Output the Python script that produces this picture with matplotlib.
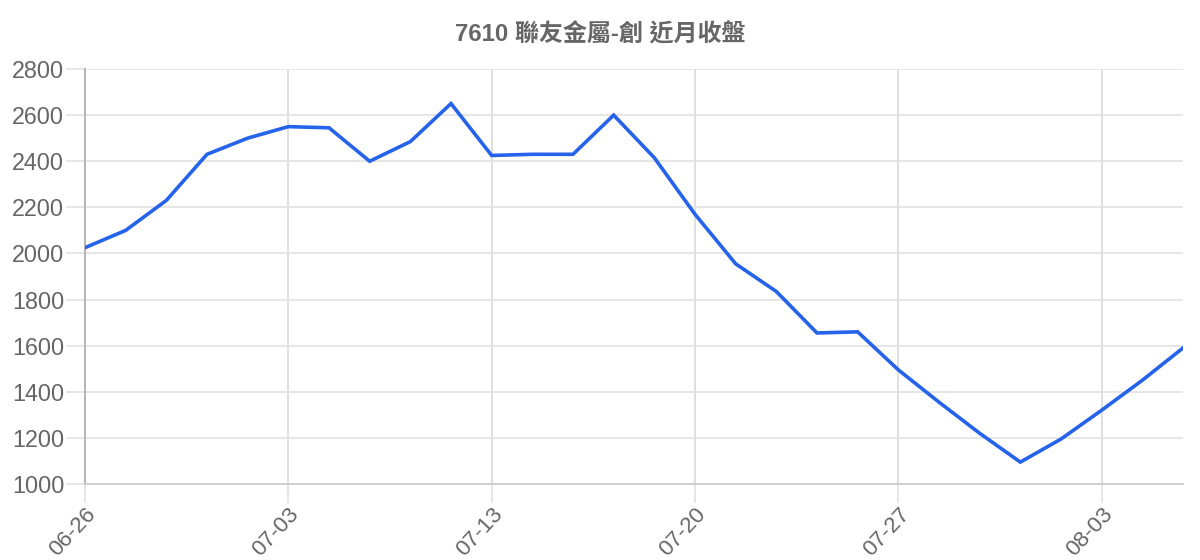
import matplotlib
matplotlib.use("Agg")
from matplotlib import pyplot as plt

# Daily closing prices, 7610 (trading days only)
dates = ['06-26', '06-27', '06-28', '06-29', '06-30',
         '07-03', '07-04', '07-05', '07-06', '07-07',
         '07-13', '07-14', '07-17', '07-18', '07-19',
         '07-20', '07-21', '07-24', '07-25', '07-26',
         '07-27', '07-28', '07-31', '08-01', '08-02',
         '08-03', '08-04', '08-07']
closes = [2025, 2100, 2230, 2430, 2500,
          2550, 2545, 2400, 2485, 2650,
          2425, 2430, 2430, 2600, 2415,
          2170, 1955, 1835, 1655, 1660,
          1495, 1355, 1220, 1095, 1195,
          1320, 1450, 1590]
y_ticks = [1000, 1200, 1400, 1600, 1800, 2000, 2200, 2400, 2600, 2800]
title = '7610 聯友金屬-創 近月收盤'

fonts = ['Liberation Sans', 'Noto Sans CJK TC', 'DejaVu Sans']
plt.rcParams['font.family'] = fonts
text_color = '#666666'

fig = plt.figure(figsize=(12, 5.6), dpi=100)
ax = fig.add_axes([85 / 1200, 76 / 560, 1098 / 1200, 415 / 560])

xs = list(range(len(dates)))
ax.plot(xs, closes, color='#2563eb', linewidth=2.6, solid_joinstyle='miter', zorder=3)

ax.set_xlim(0, len(dates) - 1)
ax.set_ylim(y_ticks[0], y_ticks[-1])
ax.set_yticks(y_ticks)
ax.set_xticks(xs[::5])
ax.set_xticklabels(dates[::5], rotation=47, ha='right', va='top', rotation_mode='anchor')

ax.grid(axis='y', color='#e2e2e2', linewidth=1.2, zorder=0)
ax.grid(axis='x', color='#d9d9d9', linewidth=1.2, zorder=0)

for side in ['top', 'right']:
    ax.spines[side].set_visible(False)
ax.spines['left'].set_color('#b0b0b0')
ax.spines['bottom'].set_color('#cccccc')
ax.spines['left'].set_linewidth(1.3)
ax.spines['bottom'].set_linewidth(1.3)

ax.tick_params(axis='both', length=14, width=1.2, color='#e2e2e2', labelcolor=text_color)
ax.tick_params(axis='y', labelsize=16.8, pad=1)
ax.tick_params(axis='x', labelsize=16.2, pad=0)
for lbl in ax.get_xticklabels():
    lbl.set_x(lbl.get_position()[0])

fig.text(0.5, 1 - 35 / 560, title, ha='center', va='center',
         fontsize=17.3, fontweight='bold', color=text_color)

fig.savefig('out.png', dpi=100)
